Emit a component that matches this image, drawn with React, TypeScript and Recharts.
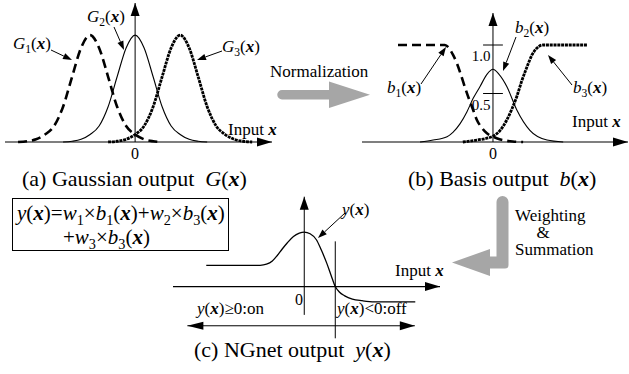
import React from "react";
import { LineChart, Line, XAxis, YAxis, ReferenceLine, ReferenceDot } from "recharts";

// (a) Gaussian outputs, common grid (1 unit = spacing of the centres)
const gridA = [-2.6, -2.4, -2.2, -2.0, -1.8, -1.6, -1.4, -1.2, -1.0, -0.8, -0.6, -0.4, -0.2, 0, 0.2, 0.4, 0.6, 0.8, 1.0, 1.2, 1.4, 1.6, 1.8, 2.0, 2.2, 2.4, 2.6];
const g1 = [0, 0.007, 0.025, 0.07, 0.15, 0.33, 0.61, 0.88, 1, 0.88, 0.61, 0.33, 0.15, 0.07, 0.025, 0.007, 0, null, null, null, null, null, null, null, null, null, null];
const g2 = [null, null, null, null, null, 0, 0.007, 0.025, 0.07, 0.15, 0.33, 0.61, 0.88, 1, 0.88, 0.61, 0.33, 0.15, 0.07, 0.025, 0.007, 0, null, null, null, null, null];
const g3 = [null, null, null, null, null, null, null, null, null, null, 0, 0.007, 0.025, 0.07, 0.15, 0.33, 0.61, 0.88, 1, 0.88, 0.61, 0.33, 0.15, 0.07, 0.025, 0.007, 0];

// (b) normalised basis outputs
const b1X = [-2.11, -1.07, -0.98, -0.89, -0.8, -0.71, -0.62, -0.53, -0.44, -0.36, -0.27, -0.18, -0.09, 0, 0.13, 0.27, 0.44, 0.67];
const b1Y = [1, 1, 0.97, 0.9, 0.81, 0.69, 0.56, 0.44, 0.33, 0.23, 0.16, 0.11, 0.075, 0.055, 0.03, 0.015, 0.005, 0];
const b2X = [-1.62, -1.33, -1.02, -0.89, -0.73, -0.58, -0.44, -0.29, -0.13, 0, 0.13, 0.31, 0.53, 0.82, 1.2, 1.56];
const b2Y = [0, 0.02, 0.055, 0.1, 0.19, 0.31, 0.45, 0.57, 0.7, 0.75, 0.7, 0.57, 0.33, 0.12, 0.02, 0];
const b3X = [-0.67, -0.36, 0, 0.16, 0.31, 0.42, 0.53, 0.64, 0.76, 0.87, 0.98, 1.11, 2.09];
const b3Y = [0, 0.02, 0.06, 0.12, 0.23, 0.34, 0.47, 0.63, 0.78, 0.9, 0.97, 1, 1];
const bTicks = [1.0, 0.5];

// (c) NGnet output
const yX = [-2.18, -0.98, -0.84, -0.71, -0.6, -0.49, -0.38, -0.24, -0.11, 0, 0.13, 0.27, 0.38, 0.5, 0.6, 0.69, 0.78, 0.9, 1.07, 1.29, 1.56, 2.47];
const yY = [0.39, 0.39, 0.41, 0.47, 0.57, 0.69, 0.8, 0.92, 0.98, 1, 0.97, 0.86, 0.67, 0.43, 0.2, 0, -0.1, -0.17, -0.23, -0.26, -0.28, -0.28];
const threshold = 0.69;

const pts = (xs: number[], ys: (number | null)[]) => xs.map((x, i) => ({ x, y: ys[i] }));

const FONT = "Liberation Serif";
const GRAY = "#a6a6a6";

const headRight = (p: any) => <path d={`M${p.cx},${p.cy} l-15,-4.5 l0,9 z`} fill="#000" />;
const headLeft = (p: any) => <path d={`M${p.cx},${p.cy} l16,-4 l0,8 z`} fill="#000" />;
const headUp = (p: any) => <path d={`M${p.cx},${p.cy} l-4.5,13 l9,0 z`} fill="#000" />;

type Seg = [string, "n" | "i" | "x" | "s"];

function Rich({ x, y, size, segs, anchor }: { x: number; y: number; size: number; segs: Seg[]; anchor?: "start" | "middle" | "end" }) {
  let low = false;
  const sh = size * 0.22;
  return (
    <text x={x} y={y} fontSize={size} textAnchor={anchor} fontFamily={FONT} style={{ whiteSpace: "pre" }}>
      {segs.map(([t, k], i) => {
        let dy = 0;
        if (k === "s" && !low) { dy = sh; low = true; }
        else if (k !== "s" && low) { dy = -sh; low = false; }
        return (
          <tspan key={i} dy={dy || undefined} fontSize={k === "s" ? size * 0.68 : undefined}
            fontStyle={k === "i" || k === "x" ? "italic" : undefined} fontWeight={k === "x" ? "bold" : undefined}>
            {t}
          </tspan>
        );
      })}
    </text>
  );
}

const fx = (f: string, sub?: string): Seg[] => {
  const s: Seg[] = [[f, "i"]];
  if (sub) s.push([sub, "s"]);
  s.push(["(", "n"], ["x", "x"], [")", "n"]);
  return s;
};
const inputX: Seg[] = [["Input ", "n"], ["x", "x"]];

function Txt({ x, y, size, children, anchor }: { x: number; y: number; size: number; children: React.ReactNode; anchor?: "start" | "middle" | "end" }) {
  return <text x={x} y={y} fontSize={size} fontFamily={FONT} textAnchor={anchor}>{children}</text>;
}

function Pointer({ x1, y1, x2, y2 }: { x1: number; y1: number; x2: number; y2: number }) {
  const a = Math.atan2(y2 - y1, x2 - x1);
  const L = 9, W = 3.2;
  const bx = x2 - L * Math.cos(a), by = y2 - L * Math.sin(a);
  const p = `${x2},${y2} ${bx - W * Math.sin(a)},${by + W * Math.cos(a)} ${bx + W * Math.sin(a)},${by - W * Math.cos(a)}`;
  return (
    <g>
      <line x1={x1} y1={y1} x2={bx} y2={by} stroke="#000" strokeWidth={1} />
      <polygon points={p} fill="#000" />
    </g>
  );
}

export default function App() {
  return (
    <div style={{ position: "absolute", left: 0, top: 0, width: 629, height: 374, background: "#fff", fontFamily: FONT }}>
      {/* (a) */}
      <div style={{ position: "absolute", left: 0, top: 0 }}>
        <LineChart width={280} height={150} margin={{ top: 3, right: 8, bottom: 8, left: 5 }}>
          <XAxis type="number" dataKey="x" domain={[-2.89, 3.04]} hide />
          <YAxis type="number" domain={[0, 1.3]} hide />
          <ReferenceLine y={0} stroke="#000" strokeWidth={1.2} />
          <ReferenceLine x={0} stroke="#000" strokeWidth={1} />
          <ReferenceDot x={3.04} y={0} shape={headRight} />
          <ReferenceDot x={0} y={1.3} shape={headUp} />
          <Line data={pts(gridA, g1)} dataKey="y" type="monotone" stroke="#000" strokeWidth={2.6} strokeDasharray="9 5" dot={false} isAnimationActive={false} />
          <Line data={pts(gridA, g2)} dataKey="y" type="monotone" stroke="#000" strokeWidth={1.1} dot={false} isAnimationActive={false} />
          <Line data={pts(gridA, g3)} dataKey="y" type="monotone" stroke="#000" strokeWidth={2.8} strokeDasharray="3 0.8" dot={false} isAnimationActive={false} />
        </LineChart>
      </div>

      {/* (b) */}
      <div style={{ position: "absolute", left: 355, top: 0 }}>
        <LineChart width={274} height={150} margin={{ top: 13, right: 1, bottom: 8, left: 7 }}>
          <XAxis type="number" dataKey="x" domain={[-2.91, 3.0]} hide />
          <YAxis type="number" domain={[0, 1.33]} hide />
          <ReferenceLine y={0} stroke="#000" strokeWidth={1.2} />
          <ReferenceLine x={0} stroke="#000" strokeWidth={1} />
          {bTicks.map((t) => (
            <ReferenceLine key={t} segment={[{ x: -0.22, y: t }, { x: 0.22, y: t }]} stroke="#000" strokeWidth={1} />
          ))}
          <ReferenceDot x={3.0} y={0} shape={headRight} />
          <ReferenceDot x={0} y={1.33} shape={headUp} />
          <Line data={pts(b1X, b1Y)} dataKey="y" type="monotone" stroke="#000" strokeWidth={2.6} strokeDasharray="9 5" dot={false} isAnimationActive={false} />
          <Line data={pts(b2X, b2Y)} dataKey="y" type="monotone" stroke="#000" strokeWidth={1.1} dot={false} isAnimationActive={false} />
          <Line data={pts(b3X, b3Y)} dataKey="y" type="monotone" stroke="#000" strokeWidth={2.8} strokeDasharray="3 0.8" dot={false} isAnimationActive={false} />
        </LineChart>
      </div>

      {/* (c) */}
      <div style={{ position: "absolute", left: 165, top: 190 }}>
        <LineChart width={280} height={155} margin={{ top: 6.7, right: 5, bottom: 6.7, left: 8 }}>
          <XAxis type="number" dataKey="x" domain={[-2.92, 3.02]} hide />
          <YAxis type="number" domain={[-0.95, 1.65]} hide />
          <ReferenceLine y={0} stroke="#000" strokeWidth={1.2} />
          <ReferenceLine segment={[{ x: 0, y: -0.52 }, { x: 0, y: 1.65 }]} stroke="#000" strokeWidth={1} />
          <ReferenceLine segment={[{ x: threshold, y: -0.95 }, { x: threshold, y: 0.83 }]} stroke="#000" strokeWidth={1} />
          <ReferenceLine segment={[{ x: -2.6, y: -0.72 }, { x: 2.46, y: -0.72 }]} stroke="#000" strokeWidth={1} />
          <ReferenceDot x={3.02} y={0} shape={headRight} />
          <ReferenceDot x={0} y={1.65} shape={headUp} />
          <ReferenceDot x={-2.6} y={-0.72} shape={headLeft} />
          <ReferenceDot x={2.46} y={-0.72} shape={headRight} />
          <Line data={pts(yX, yY)} dataKey="y" type="monotone" stroke="#000" strokeWidth={1.3} dot={false} isAnimationActive={false} />
        </LineChart>
      </div>

      <svg width={629} height={374} style={{ position: "absolute", left: 0, top: 0, pointerEvents: "none" }} fill="#000">
        {/* (a) labels */}
        <Rich x={13} y={49} size={17} segs={fx("G", "1")} />
        <Pointer x1={51} y1={50} x2={72} y2={60} />
        <Rich x={87} y={22} size={17} segs={fx("G", "2")} />
        <Pointer x1={114} y1={27} x2={124} y2={50} />
        <Rich x={222} y={52} size={17} segs={fx("G", "3")} />
        <Pointer x1={222} y1={51} x2={197} y2={60} />
        <Rich x={228} y={135} size={17} segs={inputX} />
        <Txt x={135} y={159} size={16} anchor="middle">0</Txt>
        <Rich x={22} y={186} size={22} segs={[["(a) Gaussian output  ", "n"], ...fx("G")]} />

        {/* normalization arrow */}
        <Txt x={270} y={77} size={17}>Normalization</Txt>
        <path d="M282,90 L329,90 L329,81.5 L370,94.75 L329,108 L329,99.5 L282,99.5 A4.75,4.75 0 0 1 282,90 Z" fill={GRAY} />

        {/* (b) labels */}
        <Rich x={387} y={93} size={17} segs={fx("b", "1")} />
        <Pointer x1={421} y1={84} x2={446} y2={47} />
        <Rich x={515} y={33} size={17} segs={fx("b", "2")} />
        <Pointer x1={516} y1={37} x2={503} y2={71} />
        <Rich x={573} y={93} size={17} segs={fx("b", "3")} />
        <Pointer x1={572} y1={85} x2={548} y2={55} />
        <Txt x={481} y={61} size={15} anchor="middle">1.0</Txt>
        <Txt x={481} y={110} size={15} anchor="middle">0.5</Txt>
        <Rich x={572} y={127} size={17} segs={inputX} />
        <Txt x={493} y={159} size={16} anchor="middle">0</Txt>
        <Rich x={408} y={186} size={22} segs={[["(b) Basis output  ", "n"], ...fx("b")]} />

        {/* formula box */}
        <rect x={12.5} y={198.5} width={216} height={52} fill="none" stroke="#000" strokeWidth={1} />
        <Rich x={17} y={220} size={21} segs={[...fx("y"), ["=", "n"], ["w", "i"], ["1", "s"], ["×", "n"], ...fx("b", "1"), ["+", "n"], ["w", "i"], ["2", "s"], ["×", "n"], ...fx("b", "3")]} />
        <Rich x={63} y={244} size={21} segs={[["+", "n"], ["w", "i"], ["3", "s"], ["×", "n"], ...fx("b", "3")]} />

        {/* weighting arrow */}
        <path d="M496.5,202 A6,6 0 0 1 508.5,202 L508.5,265 Q508.5,268.5 505,268.5 L490,268.5 L490,276 L452,262.5 L490,249 L490,256.5 L496.5,256.5 Z" fill={GRAY} />
        <Txt x={515} y={221} size={17}>Weighting</Txt>
        <Txt x={543} y={238} size={17} anchor="middle">&amp;</Txt>
        <Txt x={515} y={255} size={17}>Summation</Txt>

        {/* (c) labels */}
        <Rich x={342} y={215} size={17} segs={fx("y")} />
        <Pointer x1={345} y1={213} x2={318} y2={238} />
        <Rich x={395} y={276} size={17} segs={inputX} />
        <Txt x={299} y={305} size={16} anchor="middle">0</Txt>
        <Rich x={197} y={314} size={17} segs={[...fx("y"), ["≥0:on", "n"]]} />
        <Rich x={337} y={314} size={17} segs={[...fx("y"), ["<0:off", "n"]]} />
        <Rich x={194} y={357} size={22} segs={[["(c) NGnet output  ", "n"], ...fx("y")]} />
      </svg>
    </div>
  );
}
